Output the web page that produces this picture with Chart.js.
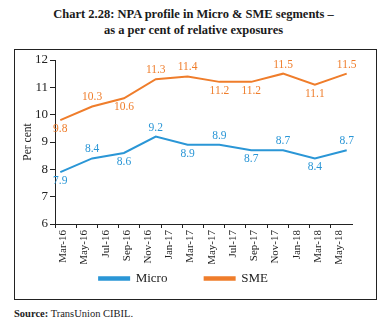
<!DOCTYPE html>
<html>
<head>
<meta charset="utf-8">
<script src="https://cdn.jsdelivr.net/npm/chart.js@4/dist/chart.umd.min.js"></script>
<style>
  body { margin: 0; width: 387px; height: 326px; background: #fff; position: relative; font-family: "Liberation Serif", serif; }
  #title { position: absolute; left: 0; top: 6px; width: 387px; text-align: center; font-weight: bold; font-size: 12.5px; line-height: 16px; color: #1a1a1a; }
  #frame { position: absolute; left: 14px; top: 49px; width: 361px; height: 249px; border: 1px solid #222; }
  #wrap { position: absolute; left: 15px; top: 50px; width: 361px; height: 249px; }
  #source { position: absolute; left: 14px; top: 308px; font-size: 10.5px; color: #222; }
</style>
</head>
<body>
<div id="title">Chart 2.28: NPA profile in Micro &amp; SME segments &ndash;<br>as a per cent of relative exposures</div>
<div id="frame"></div>
<div id="wrap"><canvas id="npaChart" width="361" height="249"></canvas></div>
<div id="source"><b>Source:</b> TransUnion CIBIL.</div>
<script>
// monthly category axis, Mar-16 .. Jun-18
const months = [
    'Mar-16', 'Apr-16', 'May-16', 'Jun-16', 'Jul-16', 'Aug-16', 'Sep-16', 'Oct-16', 'Nov-16', 'Dec-16',
    'Jan-17', 'Feb-17', 'Mar-17', 'Apr-17', 'May-17', 'Jun-17', 'Jul-17', 'Aug-17', 'Sep-17', 'Oct-17', 'Nov-17', 'Dec-17',
    'Jan-18', 'Feb-18', 'Mar-18', 'Apr-18', 'May-18', 'Jun-18'
];
// quarterly observations
const quarters = ['Mar-16', 'Jun-16', 'Sep-16', 'Dec-16', 'Mar-17', 'Jun-17', 'Sep-17', 'Dec-17', 'Mar-18', 'Jun-18'];
const microValues = [7.9, 8.4, 8.6, 9.2, 8.9, 8.9, 8.7, 8.7, 8.4, 8.7];
const smeValues = [9.8, 10.3, 10.6, 11.3, 11.4, 11.2, 11.2, 11.5, 11.1, 11.5];
const yTicks = [6, 7, 8, 9, 10, 11, 12];

// where each value label sits relative to its point
const microLabelSide = ['below', 'above', 'below', 'above', 'below', 'above', 'below', 'above', 'below', 'above'];
const smeLabelSide = ['below', 'above', 'below', 'above', 'above', 'below', 'below', 'above', 'below', 'above'];

const blue = '#2A96D6';
const orange = '#EF7D2B';

function toPoints(values) {
    return values.map((v, i) => ({ x: quarters[i], y: v }));
}

const valueLabels = {
    id: 'valueLabels',
    afterDatasetsDraw(chart) {
        const ctx = chart.ctx;
        ctx.save();
        ctx.font = '11.5px "Liberation Serif"';
        ctx.textAlign = 'center';
        ctx.textBaseline = 'middle';
        chart.data.datasets.forEach((ds, di) => {
            const sides = di === 0 ? microLabelSide : smeLabelSide;
            chart.getDatasetMeta(di).data.forEach((pt, i) => {
                ctx.fillStyle = ds.borderColor;
                const dy = sides[i] === 'above' ? -9 : 9;
                ctx.fillText(ds.data[i].y.toFixed(1), pt.x, pt.y + dy);
            });
        });
        ctx.restore();
    }
};

const ctxNpa = document.getElementById('npaChart').getContext('2d');
const npaChart = new Chart(ctxNpa, {
    type: 'line',
    data: {
        labels: months,
        datasets: [{
            label: 'Micro',
            data: toPoints(microValues),
            borderColor: blue,
            backgroundColor: blue,
            borderWidth: 2,
            pointRadius: 0,
            tension: 0
        }, {
            label: 'SME',
            data: toPoints(smeValues),
            borderColor: orange,
            backgroundColor: orange,
            borderWidth: 2,
            pointRadius: 0,
            tension: 0
        }]
    },
    options: {
        responsive: false,
        animation: false,
        events: [],
        layout: { padding: { left: 0, right: 24, top: 10, bottom: 4 } },
        scales: {
            x: {
                type: 'category',
                offset: true,
                afterFit: (scale) => { scale.height = 40; },
                grid: {
                    offset: true,
                    drawOnChartArea: false,
                    tickLength: 4,
                    color: (c) => (c.index % 2 === 0 ? '#222' : 'rgba(0,0,0,0)')
                },
                border: { color: '#222', width: 1 },
                ticks: {
                    autoSkip: false,
                    maxRotation: 90,
                    minRotation: 90,
                    padding: 2,
                    labelOffset: 3,
                    color: '#222',
                    font: { family: 'Liberation Serif', size: 11 },
                    callback: (val, idx) => (idx % 2 === 0 ? months[idx] : '')
                }
            },
            y: {
                min: 6,
                max: 12,
                afterFit: (scale) => { scale.width = 40; },
                afterBuildTicks: (scale) => { scale.ticks = yTicks.map(v => ({ value: v })); },
                grid: { drawOnChartArea: false, tickLength: 5, color: '#222' },
                border: { color: '#222', width: 1 },
                ticks: {
                    padding: 2,
                    color: '#222',
                    font: { family: 'Liberation Serif', size: 13 }
                },
                title: {
                    display: true,
                    text: 'Per cent',
                    color: '#222',
                    padding: { top: 6, bottom: 0 },
                    font: { family: 'Liberation Serif', size: 11.5 }
                }
            }
        },
        plugins: {
            legend: {
                display: true,
                position: 'bottom',
                labels: {
                    boxWidth: 30,
                    boxHeight: 2.5,
                    padding: 8,
                    color: '#222',
                    font: { family: 'Liberation Serif', size: 13 },
                    // pad the first entry so the gap to the second one matches
                    generateLabels: (chart) => Chart.defaults.plugins.legend.labels.generateLabels(chart)
                        .map((item, i) => (i === 0 ? { ...item, text: item.text + '\u00a0'.repeat(9) } : item))
                }
            },
            tooltip: { enabled: false }
        }
    },
    plugins: [valueLabels]
});
</script>
</body>
</html>
